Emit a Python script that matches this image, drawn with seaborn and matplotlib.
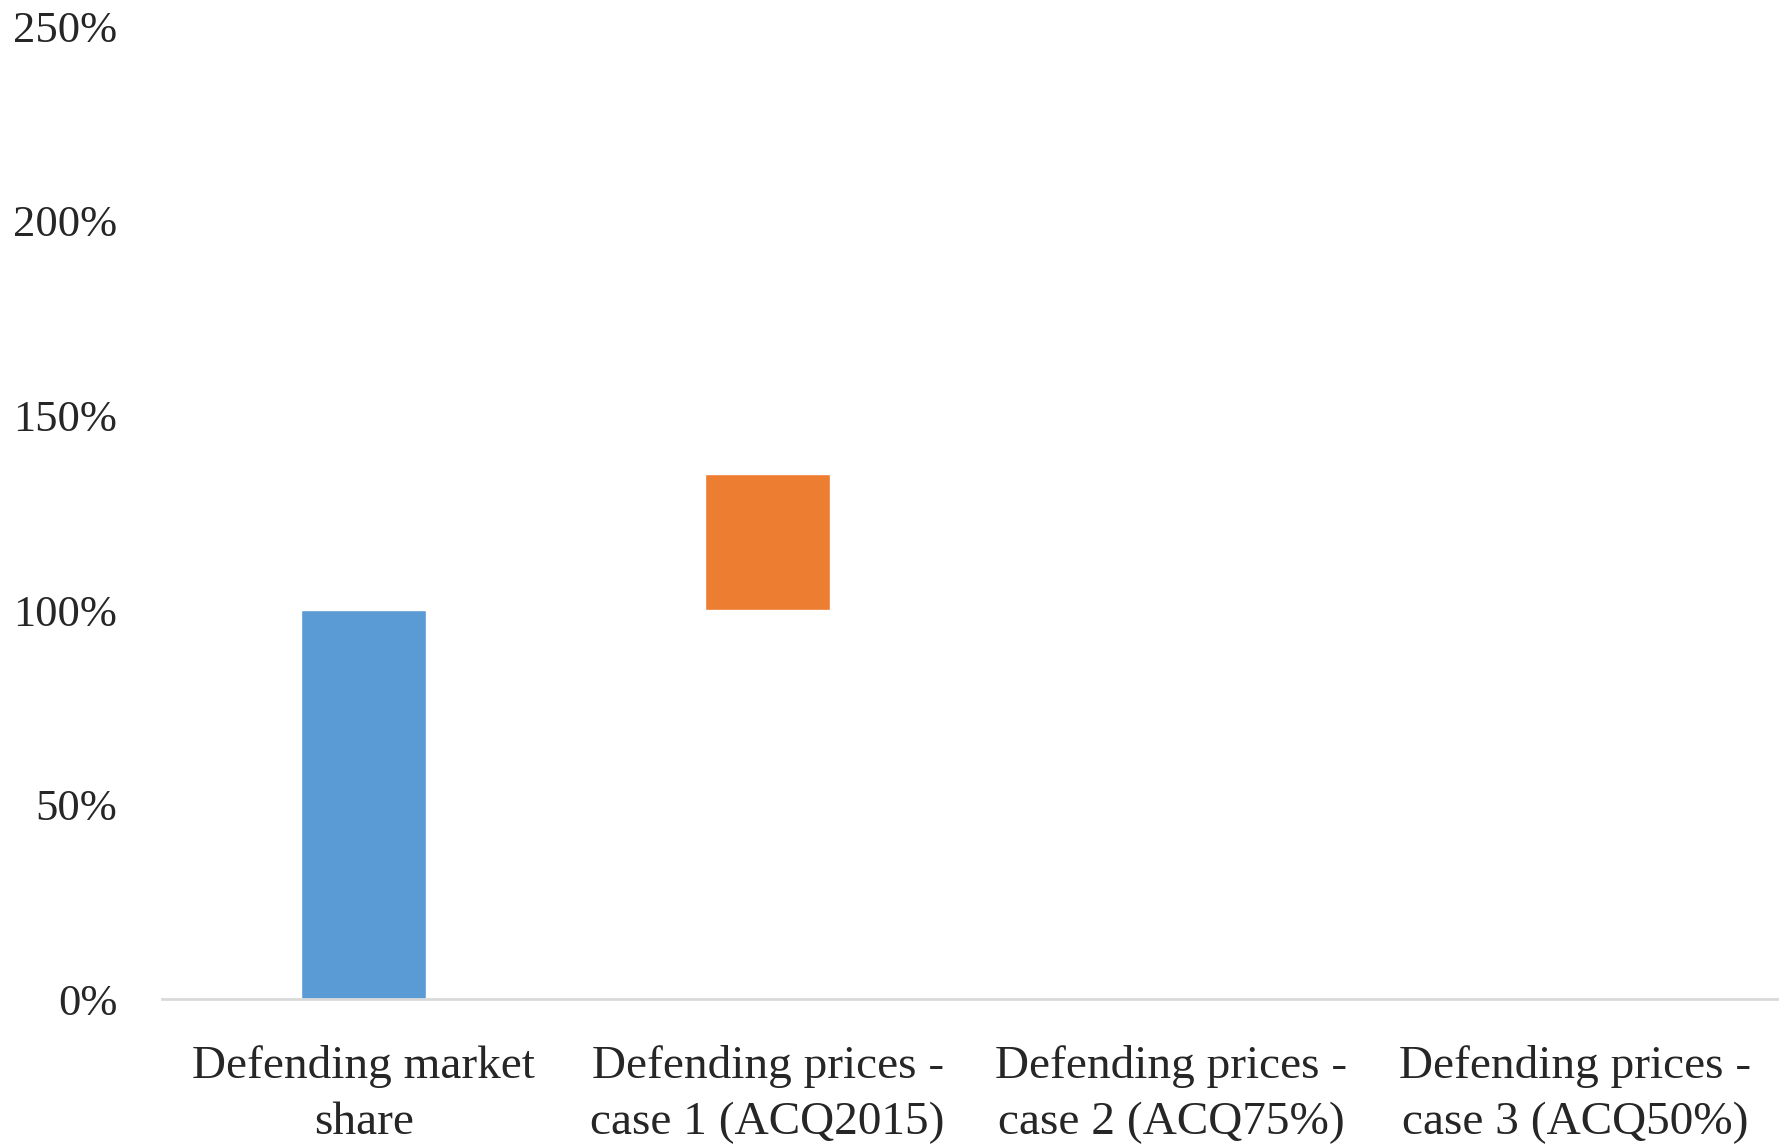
import matplotlib
matplotlib.use("Agg")
import matplotlib.pyplot as plt
import seaborn as sns
import pandas as pd

# Waterfall data (percent)
categories = ["Defending market\nshare",
              "Defending prices -\ncase 1 (ACQ2015)",
              "Defending prices -\ncase 2 (ACQ75%)",
              "Defending prices -\ncase 3 (ACQ50%)"]
start_values = [0, 100, 0, 0]
end_values = [100, 135, 0, 0]
bar_colors = ["#5B9BD5", "#ED7D31", "#A5A5A5", "#FFC000"]
y_ticks = [0, 50, 100, 150, 200, 250]
y_tick_labels = [f"{t}%" for t in y_ticks]

df = pd.DataFrame({"category": categories, "start": start_values, "end": end_values})

sns.set_style("white")
plt.rcParams["font.family"] = ["Liberation Serif", "DejaVu Serif"]

fig = plt.figure(figsize=(17.79, 11.46), dpi=100)
ax = fig.add_axes([0.091, 0.128, 0.908, 0.849])

# top of each step, then hide the part under it with white base bars
sns.barplot(data=df, x="category", y="end", hue="category", palette=bar_colors,
            width=0.31, saturation=1, legend=False, ax=ax, zorder=1)
sns.barplot(data=df, x="category", y="start", color="white",
            width=0.33, saturation=1, ax=ax, zorder=1.1)

ax.set_ylim(0, 250)
ax.set_xlim(-0.5, 3.5)
ax.set_yticks(y_ticks)
ax.set_yticklabels(y_tick_labels)
ax.set_xlabel("")
ax.set_ylabel("")
ax.tick_params(axis="y", length=0, pad=32, labelsize=32)
ax.tick_params(axis="x", length=0, pad=33, labelsize=34)
for lbl in ax.get_xticklabels():
    lbl.set_linespacing(1.42)

for side in ["left", "right", "top"]:
    ax.spines[side].set_visible(False)
ax.spines["bottom"].set_color("#D9D9D9")
ax.spines["bottom"].set_linewidth(2)

fig.savefig("out.png", dpi=100)
